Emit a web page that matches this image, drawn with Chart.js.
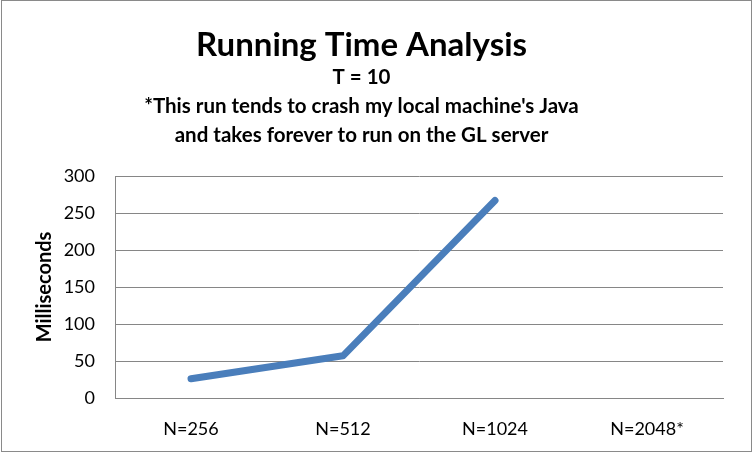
<!DOCTYPE html>
<html>
<head>
<meta charset="utf-8">
<script src="https://cdn.jsdelivr.net/npm/chart.js@4/dist/chart.umd.min.js"></script>
<style>
  html, body { margin: 0; padding: 0; background: #fff; }
  #wrap { width: 753px; height: 452px; }
</style>
</head>
<body>
<div id="wrap"><canvas id="runChart" width="753" height="452"></canvas></div>
<script>
const categories = ['N=256', 'N=512', 'N=1024', 'N=2048*'];
const runTimes = [26, 57, 267, null];
const yTicks = [0, 50, 100, 150, 200, 250, 300];

const FONT = 'Lato, "Open Sans", sans-serif';

const frame = {
    id: 'frame',
    beforeDraw(chart) {
        const c = chart.ctx;
        c.save();
        c.fillStyle = '#ffffff';
        c.fillRect(0, 0, chart.width, chart.height);
        c.restore();
    },
    afterDraw(chart) {
        const c = chart.ctx;
        c.save();
        c.strokeStyle = '#8a8a8a';
        c.lineWidth = 1;
        c.strokeRect(1.5, 0.5, chart.width - 3, chart.height - 1);
        c.restore();
    }
};

const ctx = document.getElementById('runChart').getContext('2d');

const runChart = new Chart(ctx, {
    type: 'line',
    data: {
        labels: categories,
        datasets: [{
            label: 'Running time',
            data: runTimes,
            borderColor: '#4a7ebb',
            borderWidth: 7,
            borderCapStyle: 'round',
            borderJoinStyle: 'round',
            pointRadius: 0,
            tension: 0,
            fill: false,
            spanGaps: false
        }]
    },
    options: {
        responsive: false,
        animation: false,
        layout: { padding: { left: 0, right: 30, top: 0, bottom: 0 } },
        plugins: {
            legend: { display: false },
            tooltip: { enabled: false },
            title: {
                display: true,
                text: 'Running Time Analysis',
                color: '#000',
                font: { family: FONT, size: 33, weight: 'bold', lineHeight: 1.1 },
                padding: { top: 27, bottom: 0 }
            },
            subtitle: {
                display: true,
                text: ['T = 10', "*This run tends to crash my local machine's Java", 'and takes forever to run on the GL server'],
                color: '#000',
                font: { family: FONT, size: 20.5, weight: 'bold', lineHeight: 1.41 },
                padding: { top: 0, bottom: 26 }
            }
        },
        scales: {
            x: {
                offset: true,
                grid: { display: false, drawTicks: false, offset: true },
                border: { display: true, color: '#868686', width: 1 },
                ticks: { color: '#000', font: { family: FONT, size: 18 }, padding: 20, maxRotation: 0 },
                afterFit(scale) { scale.height = 54; }
            },
            y: {
                min: 0,
                max: 300,
                afterBuildTicks(scale) { scale.ticks = yTicks.map(v => ({ value: v })); },
                grid: { color: '#868686', lineWidth: 1, drawTicks: false },
                border: { display: true, color: '#868686', width: 1 },
                ticks: { color: '#000', font: { family: FONT, size: 18 }, padding: 20 },
                title: {
                    display: true,
                    text: 'Milliseconds',
                    color: '#000',
                    font: { family: FONT, size: 20, weight: 'bold', lineHeight: 1.2 },
                    padding: { top: 33, bottom: 0 }
                },
                afterFit(scale) { scale.width = 115; }
            }
        }
    },
    plugins: [frame]
});
</script>
</body>
</html>
